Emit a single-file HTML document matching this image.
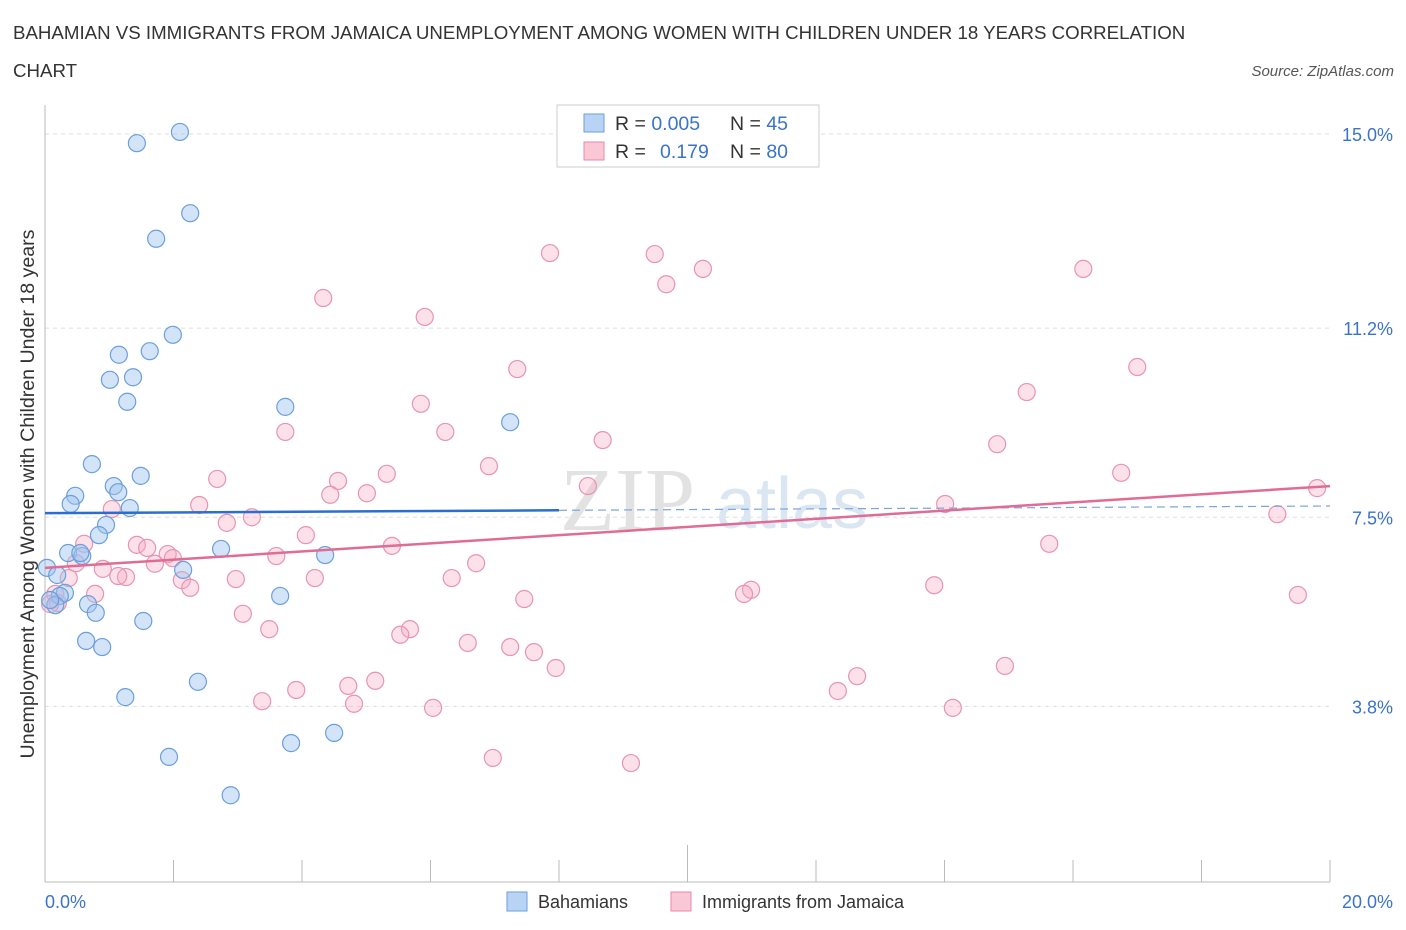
<!DOCTYPE html>
<html><head><meta charset="utf-8"><style>
body{margin:0;background:#fff;font-family:"Liberation Sans",sans-serif;}
svg{display:block}
</style></head><body>
<svg width="1406" height="930" xmlns="http://www.w3.org/2000/svg" id="chart">
<text x="13" y="39" font-size="18.7" fill="#333">BAHAMIAN VS IMMIGRANTS FROM JAMAICA UNEMPLOYMENT AMONG WOMEN WITH CHILDREN UNDER 18 YEARS CORRELATION</text>
<text x="13" y="77" font-size="18.7" fill="#333">CHART</text>
<text x="1394" y="76" font-size="15" fill="#555" font-style="italic" text-anchor="end">Source: ZipAtlas.com</text>
<g id="grid"></g>
<g id="xticks"></g>
<line x1="45" y1="105" x2="45" y2="882" stroke="#bbb"/>
<line x1="45" y1="882" x2="1330" y2="882" stroke="#bbb"/>
<text x="560" y="530" font-size="90" fill="#e2e2e2" font-family="Liberation Serif,serif">ZIP</text>
<text x="716" y="528" font-size="72" fill="#dbe6f3">atlas</text>
<text x="34" y="494" font-size="19.6" fill="#333" transform="rotate(-90 34 494)" text-anchor="middle">Unemployment Among Women with Children Under 18 years</text>
<g id="ylabels"></g>
<text x="45" y="908" font-size="18" fill="#3a73c8">0.0%</text>
<text x="1393" y="908" font-size="18" fill="#3a73c8" text-anchor="end">20.0%</text>
<g id="pink"></g>
<g id="blue"></g>
<g id="trends"></g>
<g>
<rect x="557" y="105" width="262" height="62" fill="#fff" stroke="#ccc"/>
<rect x="584" y="114" width="20" height="18" fill="#b9d3f5" stroke="#6a9fdc"/>
<rect x="584" y="142" width="20" height="18" fill="#f9c7d6" stroke="#e88aa6"/>
<text x="615" y="130" font-size="19.5" fill="#333">R = <tspan fill="#3a73c8">0.005</tspan><tspan x="730">N = </tspan><tspan fill="#3a73c8">45</tspan></text>
<text x="615" y="158" font-size="19.5" fill="#333">R = <tspan x="660" fill="#3a73c8">0.179</tspan><tspan x="730">N = </tspan><tspan fill="#3a73c8">80</tspan></text>
</g>
<g>
<rect x="507" y="892" width="20" height="19" fill="#b9d3f5" stroke="#6a9fdc"/>
<text x="538" y="908" font-size="18" fill="#333">Bahamians</text>
<rect x="671" y="892" width="20" height="19" fill="#f9c7d6" stroke="#e88aa6"/>
<text x="702" y="908" font-size="18" fill="#333">Immigrants from Jamaica</text>
</g>
</svg>
<script>
const yTicks=[15.0,11.2,7.5,3.8];
const yTickLabels=["15.0%","11.2%","7.5%","3.8%"];
const xTicks=[0,2,4,6,8,10,12,14,16,18,20];
const blueX=[1.43,2.10,2.26,1.73,1.99,1.15,1.63,1.01,1.37,1.28,3.74,7.24,0.73,1.49,1.07,1.14,0.47,0.40,1.32,0.95,0.84,0.36,0.58,2.74,4.36,0.03,0.19,2.15,0.31,0.23,3.66,0.67,0.16,0.79,1.53,0.64,0.89,1.25,2.38,1.93,2.89,3.83,4.50,0.08,0.55];
const blueY=[14.82,15.04,13.45,12.95,11.07,10.68,10.75,10.19,10.24,9.76,9.66,9.36,8.54,8.31,8.11,7.99,7.92,7.76,7.68,7.35,7.15,6.80,6.74,6.88,6.76,6.51,6.37,6.47,6.02,5.96,5.96,5.80,5.78,5.63,5.47,5.08,4.96,3.98,4.28,2.81,2.06,3.08,3.28,5.88,6.80];
const pinkX=[7.86,9.49,10.24,9.67,16.16,4.33,5.91,7.35,17.00,15.28,5.85,3.74,6.23,8.68,14.82,6.91,5.32,16.75,2.68,4.56,8.45,5.01,4.44,2.40,14.01,1.04,19.80,19.18,3.22,2.83,4.06,15.63,1.43,1.59,0.61,5.40,1.91,3.60,1.99,6.71,1.71,0.48,0.90,1.26,1.14,4.20,6.33,2.97,0.37,2.13,2.26,13.84,10.99,10.88,0.16,0.78,0.20,7.46,19.50,3.08,3.49,5.68,5.53,6.58,7.24,7.61,7.95,14.94,12.64,5.14,4.72,3.91,12.34,3.38,4.81,6.04,14.13,6.97,9.12,0.08];
const pinkY=[12.67,12.65,12.36,12.06,12.36,11.79,11.42,10.40,10.44,9.95,9.72,9.17,9.17,9.01,8.93,8.50,8.35,8.37,8.25,8.21,8.11,7.97,7.94,7.74,7.76,7.66,8.07,7.56,7.50,7.39,7.15,6.98,6.96,6.90,6.98,6.94,6.78,6.74,6.70,6.60,6.59,6.60,6.49,6.33,6.35,6.31,6.31,6.29,6.31,6.27,6.12,6.17,6.08,6.00,6.00,6.00,5.82,5.90,5.98,5.61,5.31,5.31,5.20,5.04,4.96,4.86,4.55,4.59,4.39,4.30,4.20,4.12,4.10,3.90,3.85,3.77,3.77,2.79,2.69,5.80];
const blueTrend=[7.58,7.72];
const pinkTrend=[6.51,8.11];
const blueSolidEnd=8;
const NS="http://www.w3.org/2000/svg";
function sx(v){return 45+v*64.25;}
function sy(v){return 134+(15-v)*51.1;}
function mk(t,a,p){const e=document.createElementNS(NS,t);for(const k in a)e.setAttribute(k,a[k]);p.appendChild(e);return e;}
const grid=document.getElementById('grid'),yl=document.getElementById('ylabels');
yTicks.forEach((v,i)=>{
 const l=mk('line',{x1:45,x2:1330,y1:sy(v),y2:sy(v),stroke:'#ddd','stroke-dasharray':'4,4'},grid);
 
 
 const t=mk('text',{x:1393,y:sy(v)+7,'font-size':18,fill:'#3a73c8','text-anchor':'end'},yl);
 t.textContent=yTickLabels[i];
 
 
});
const xt=document.getElementById('xticks');
xTicks.forEach(v=>{
 const l=mk('line',{x1:sx(v),x2:sx(v),y1:v==10?845:860,y2:882,stroke:'#bbb'},xt);
 
 
});
function pts(X,Y,g,fill,stroke,name){X.forEach((x,i)=>{
 const c=mk('circle',{cx:sx(x),cy:sy(Y[i]),r:8.5,fill:fill,stroke:stroke,'stroke-width':1.2},g);
 
 
});}
pts(pinkX,pinkY,document.getElementById('pink'),'rgba(245,170,195,0.35)','#e894ae','jamaica-point');
pts(blueX,blueY,document.getElementById('blue'),'rgba(160,195,240,0.45)','#6a9fdc','bahamian-point');
const tr=document.getElementById('trends');
function ly(t,x){return t[0]+(t[1]-t[0])*x/20;}
const b1=mk('line',{x1:sx(0),y1:sy(ly(blueTrend,0)),x2:sx(blueSolidEnd),y2:sy(ly(blueTrend,blueSolidEnd)),stroke:'#2a6fd0','stroke-width':2.5},tr);


const b2=mk('line',{x1:sx(blueSolidEnd),y1:sy(ly(blueTrend,blueSolidEnd)),x2:sx(20),y2:sy(ly(blueTrend,20)),stroke:'#7aa5dc','stroke-width':1.2,'stroke-dasharray':'8,5'},tr);


const p1=mk('line',{x1:sx(0),y1:sy(pinkTrend[0]),x2:sx(20),y2:sy(pinkTrend[1]),stroke:'#e06c95','stroke-width':2.5},tr);


</script>
</body></html>
